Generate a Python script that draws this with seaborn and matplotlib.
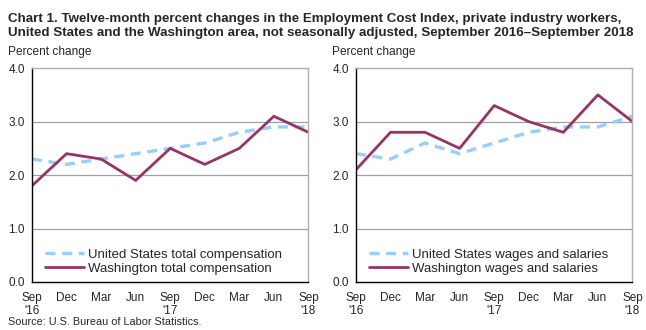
import matplotlib
matplotlib.use("Agg")
import matplotlib.pyplot as plt
import seaborn as sns
import pandas as pd

quarters = ["Sep\n'16", "Dec", "Mar", "Jun", "Sep\n'17", "Dec", "Mar", "Jun", "Sep\n'18"]
yticks = [0.0, 1.0, 2.0, 3.0, 4.0]

us_total_comp = [2.3, 2.2, 2.3, 2.4, 2.5, 2.6, 2.8, 2.9, 2.9]
wa_total_comp = [1.8, 2.4, 2.3, 1.9, 2.5, 2.2, 2.5, 3.1, 2.8]
us_wages = [2.4, 2.3, 2.6, 2.4, 2.6, 2.8, 2.9, 2.9, 3.1]
wa_wages = [2.1, 2.8, 2.8, 2.5, 3.3, 3.0, 2.8, 3.5, 3.0]

sns.set_style("white")
plt.rcParams["font.family"] = ["Liberation Sans", "DejaVu Sans"]

US_COLOR = "#99ccff"
WA_COLOR = "#993366"

fig = plt.figure(figsize=(6.46, 3.30), dpi=100)

panels = [
    (0.0495, us_total_comp, wa_total_comp,
     "United States total compensation", "Washington total compensation"),
    (0.551, us_wages, wa_wages,
     "United States wages and salaries", "Washington wages and salaries"),
]

for left, us_vals, wa_vals, us_name, wa_name in panels:
    ax = fig.add_axes([left, 0.1455, 0.428, 0.648])
    df = pd.DataFrame({
        "q": list(range(len(quarters))) * 2,
        "value": us_vals + wa_vals,
        "series": [us_name] * len(us_vals) + [wa_name] * len(wa_vals),
    })
    for g in [1.0, 2.0, 3.0]:
        ax.axhline(g, color="#a0a0a0", lw=0.9, zorder=0)
    sns.lineplot(data=df[df.series == us_name], x="q", y="value", ax=ax,
                 color=US_COLOR, lw=2.4, linestyle=(0, (3, 2)), label=us_name)
    sns.lineplot(data=df[df.series == wa_name], x="q", y="value", ax=ax,
                 color=WA_COLOR, lw=2.0, label=wa_name)
    ax.set_xlim(0, len(quarters) - 1)
    ax.set_ylim(0, 4.0)
    ax.set_xticks(range(len(quarters)))
    ax.set_xticklabels(quarters, fontsize=8.5, linespacing=1.1)
    ax.set_yticks(yticks)
    ax.set_yticklabels([f"{v:.1f}" for v in yticks], fontsize=8.5)
    ax.set_xlabel("")
    ax.set_ylabel("")
    ax.tick_params(axis="x", direction="inout", length=7, width=1, color="black", pad=4)
    ax.tick_params(axis="y", length=0, pad=5)
    for side in ["left", "bottom"]:
        ax.spines[side].set_color("black")
        ax.spines[side].set_linewidth(1.0)
    for side in ["top", "right"]:
        ax.spines[side].set_color("#b0b0b0")
        ax.spines[side].set_linewidth(1.0)
    leg = ax.legend(loc="lower left", bbox_to_anchor=(0.02, 0.0), frameon=False,
                    fontsize=9.5, handlelength=3.0, handletextpad=0.3,
                    labelspacing=0.15, borderaxespad=0.15)
    fig.text(left - 0.0375, 0.823, "Percent change", fontsize=8.6, ha="left", va="bottom")

fig.text(0.0124, 0.96, "Chart 1. Twelve-month percent changes in the Employment Cost Index, private industry workers,\n"
         "United States and the Washington area, not seasonally adjusted, September 2016\u2013September 2018",
         fontsize=9.6, fontweight="bold", ha="left", va="top", linespacing=1.15)
fig.text(0.0124, 0.01, "Source: U.S. Bureau of Labor Statistics.", fontsize=7.8, ha="left", va="bottom")

fig.savefig("out.png", dpi=100)
